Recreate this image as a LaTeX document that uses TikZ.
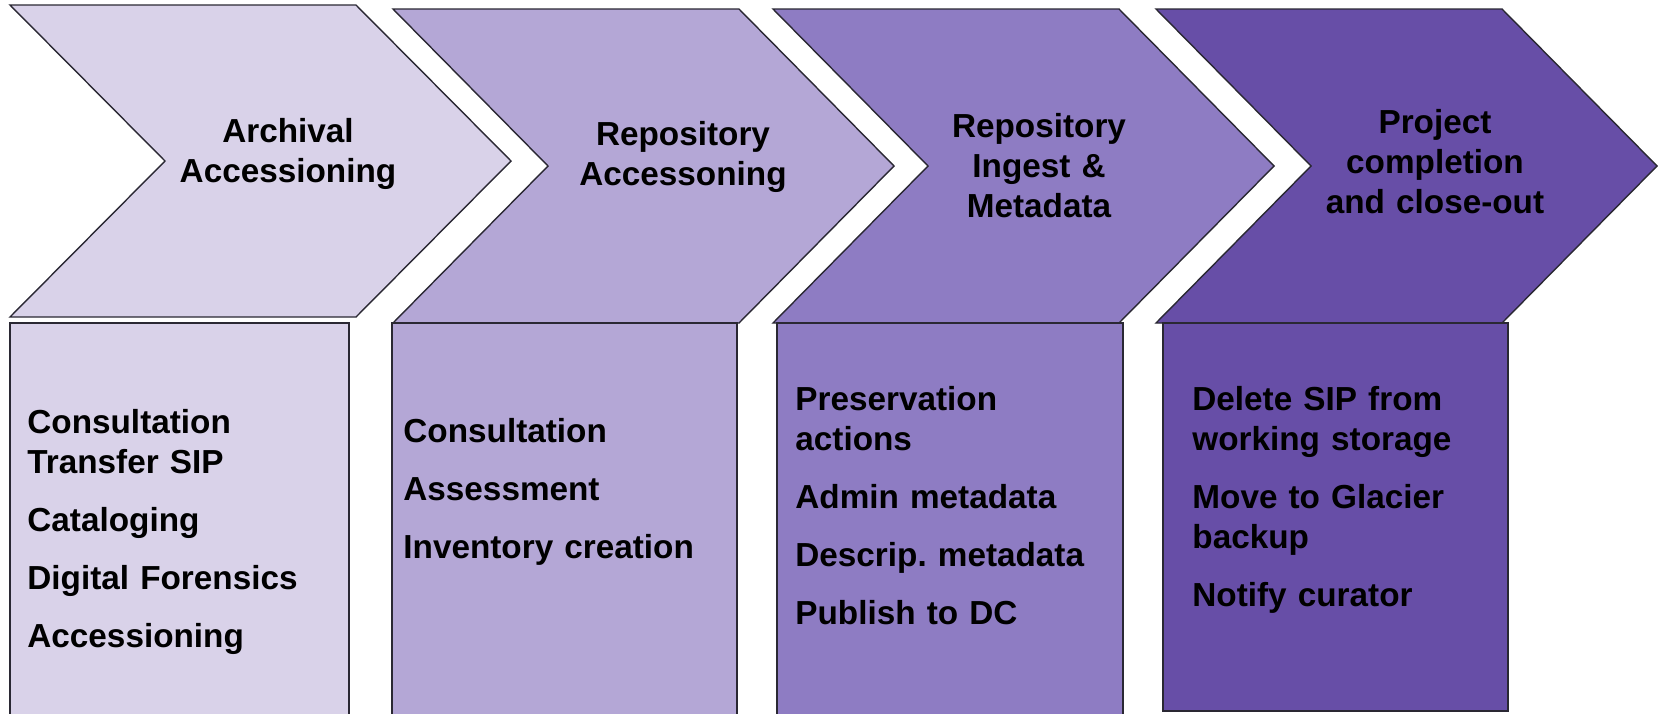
\documentclass[tikz,border=0pt]{standalone}
\usepackage{fontspec}
\setmainfont{Liberation Sans}
\frenchspacing

\definecolor{stageA}{HTML}{D9D2E9}
\definecolor{stageB}{HTML}{B4A7D6}
\definecolor{stageC}{HTML}{8E7CC3}
\definecolor{stageD}{HTML}{674EA7}
\definecolor{edgeline}{HTML}{2A2833}

\tikzset{
  stage/.style={draw=edgeline, line width=0.7pt, line join=miter},
  head/.style={inner sep=0pt, anchor=base, text width=170pt, align=center,
    font=\bfseries\fontsize{16.65}{20}\selectfont},
  tasks/.style={inner sep=0pt, anchor=base west, text width=170pt, align=left,
    font=\bfseries\fontsize{16.65}{20}\selectfont},
}
\newcommand{\taskgap}{\\[9pt]}

\begin{document}
\begin{tikzpicture}[x=0.5pt, y=-0.5pt]
    \useasboundingbox (0,0) rectangle (1658,713);

    % chevrons
    \foreach \x/\y/\h/\c in {10/5/156/stageA, 393/9/157/stageB, 773/9/157/stageC, 1156/9/157/stageD}
        \draw[stage, fill=\c] (\x,\y) -- ++(346,0) -- ++(155,\h) -- ++(-155,\h)
            -- ++(-346,0) -- ++(155,-\h) -- cycle;

    % task boxes
    \foreach \l/\r/\b/\c in {10/349/716/stageA, 392/737/716/stageB, 777/1123/716/stageC, 1163/1508/711/stageD}
        \draw[stage, fill=\c] (\l,323) rectangle (\r,\b);

    \node[head] (archival) at (288,142) {Archival\\Accessioning};
    \node[head] (repoacc) at (683,145) {Repository\\Accessoning};
    \node[head] (ingest) at (1039,137) {Repository\\Ingest \&\\Metadata};
    \node[head] (closeout) at (1435,133) {Project\\completion\\and close-out};

    \node[tasks] (archtasks) at (27,433) {Consultation\\Transfer SIP\taskgap Cataloging\taskgap Digital Forensics\taskgap Accessioning};
    \node[tasks] (acctasks) at (403,442) {Consultation\taskgap Assessment\taskgap Inventory creation};
    \node[tasks] (ingesttasks) at (795,410) {Preservation\\actions\taskgap Admin metadata\taskgap Descrip. metadata\taskgap Publish to DC};
    \node[tasks] (closetasks) at (1192,410) {Delete SIP from\\working storage\taskgap Move to Glacier\\backup\taskgap Notify curator};
\end{tikzpicture}
\end{document}
